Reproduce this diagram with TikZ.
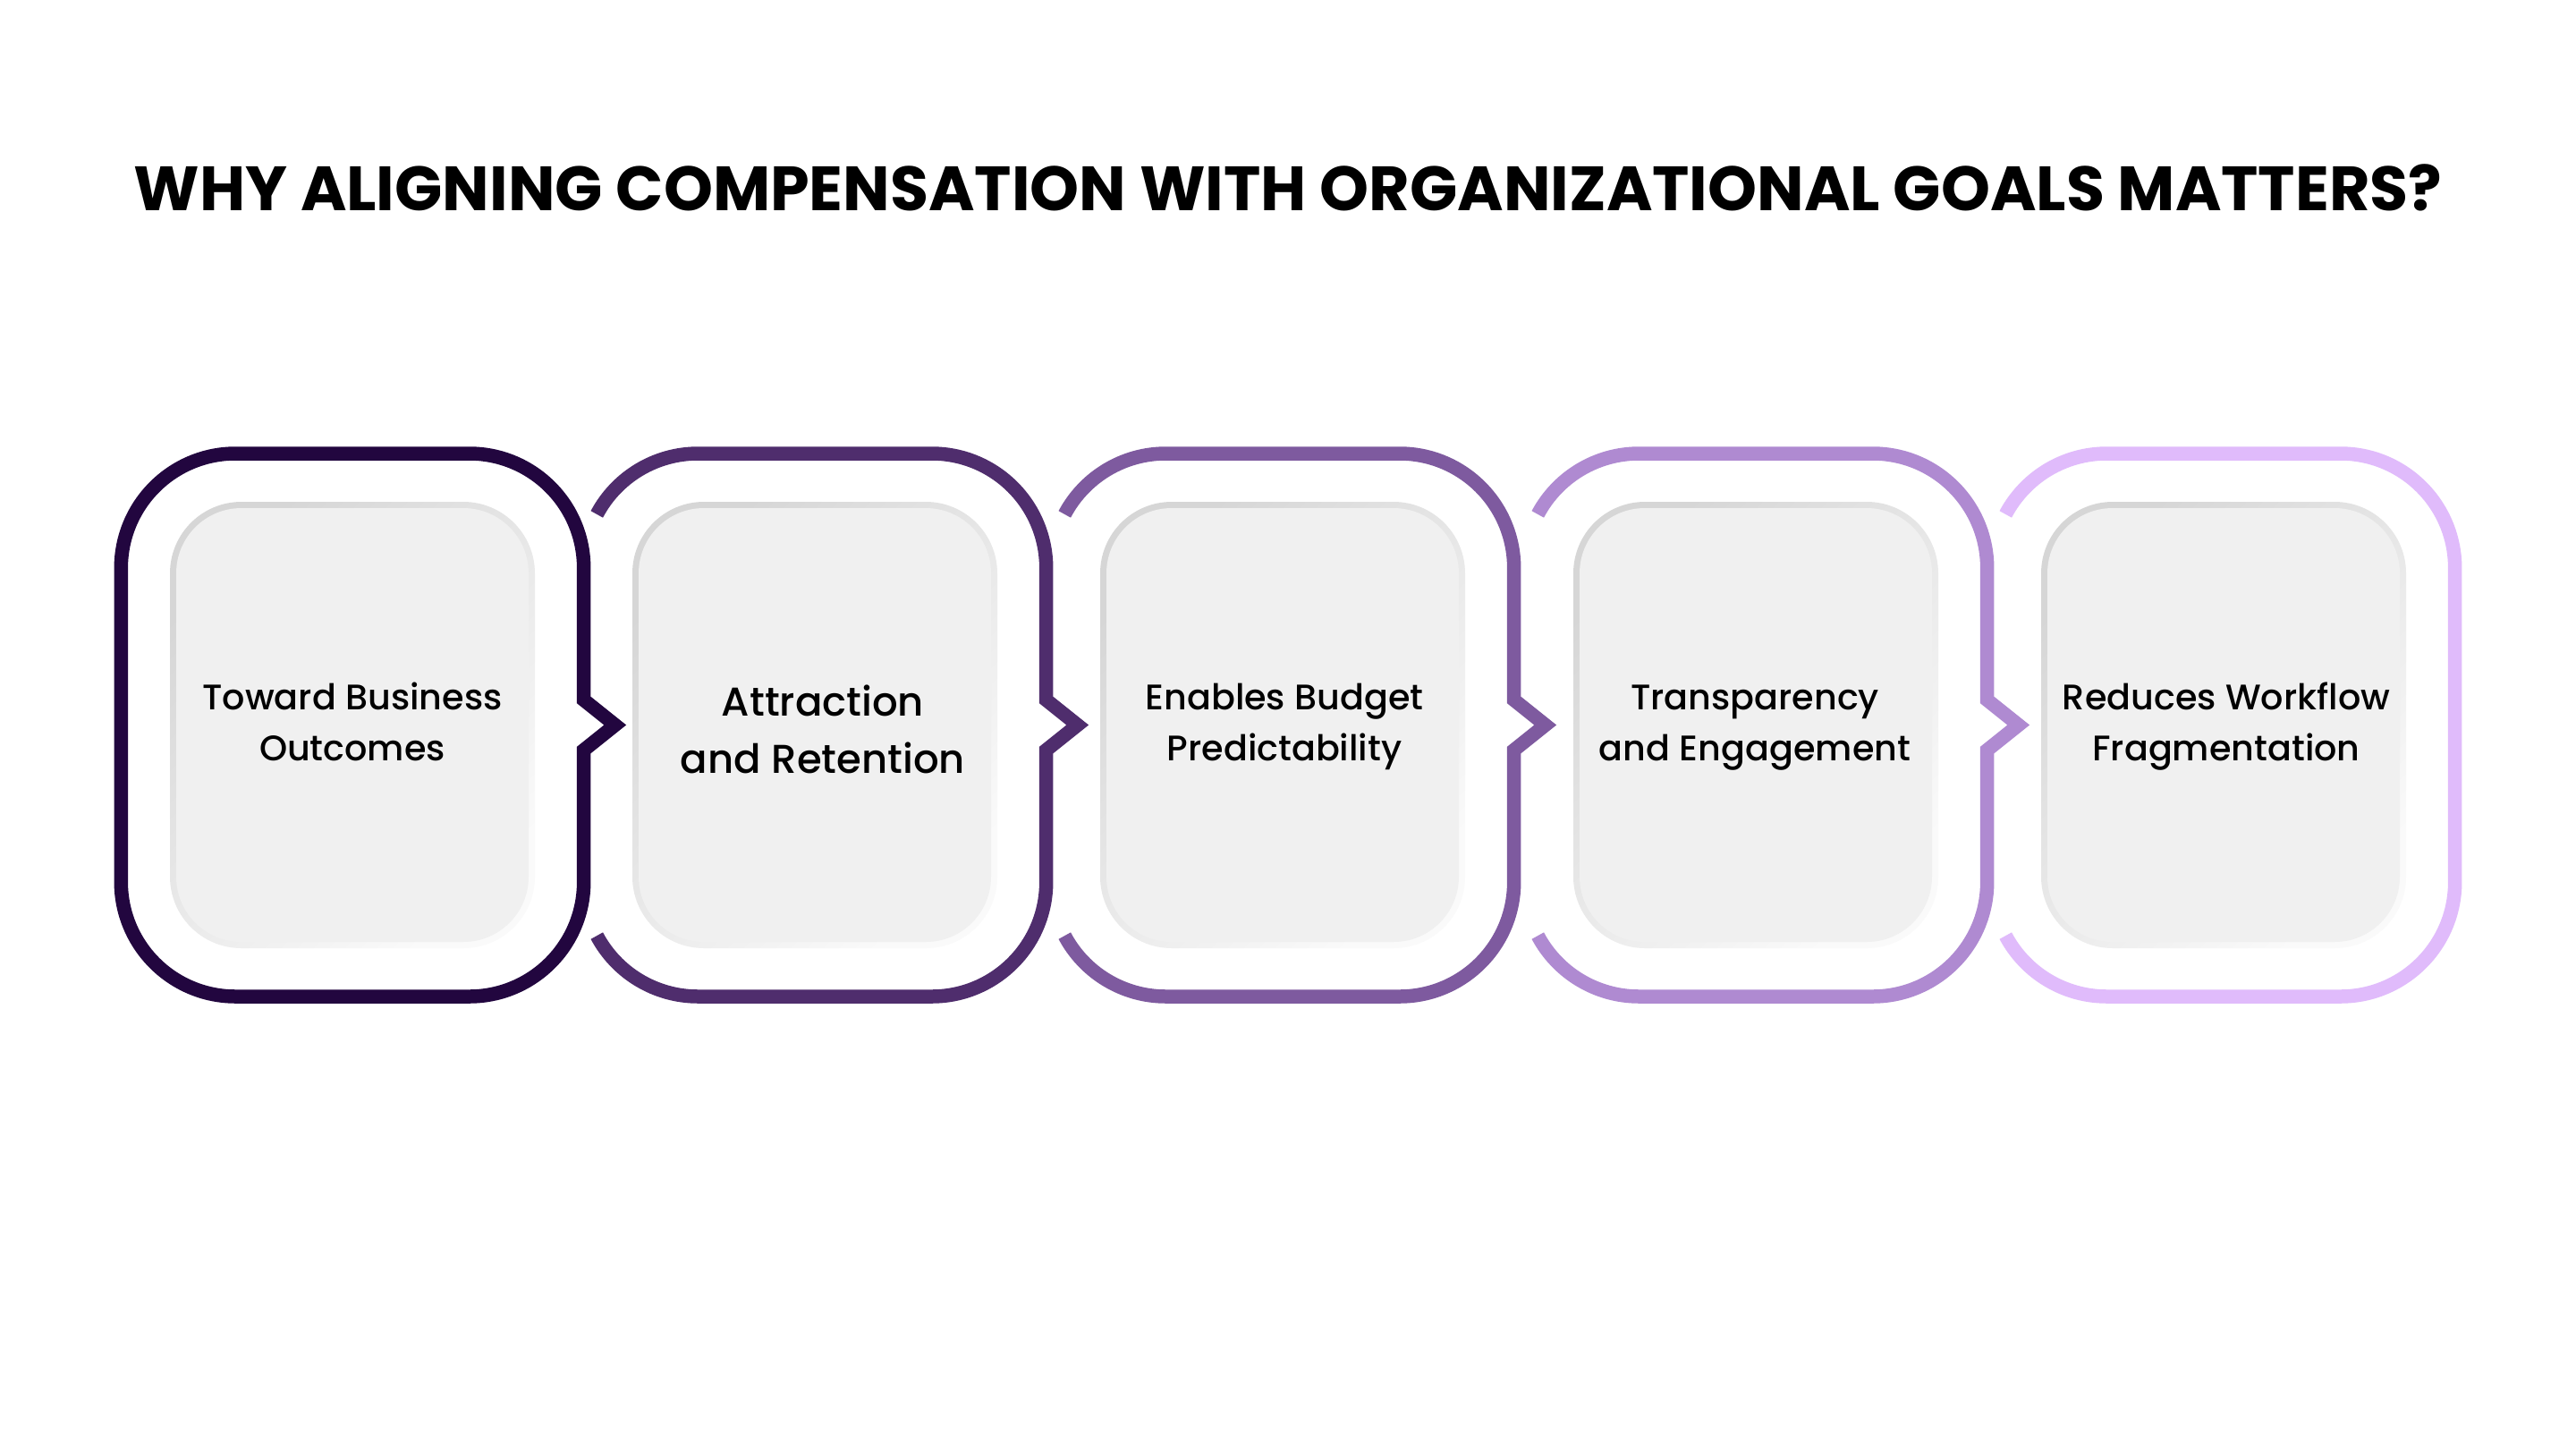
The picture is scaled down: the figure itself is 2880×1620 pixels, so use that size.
\documentclass[tikz,border=0pt]{standalone}
\usepackage{fontspec}
\setmainfont{Poppins}
\newfontfamily\medfont{Poppins Medium}

\definecolor{stepA}{HTML}{22063F}
\definecolor{stepB}{HTML}{4F2D6D}
\definecolor{stepC}{HTML}{7E5A9F}
\definecolor{stepD}{HTML}{AF8AD1}
\definecolor{stepE}{HTML}{E0BBFB}
\definecolor{cardface}{HTML}{F0F0F0}

\begin{document}
\begin{tikzpicture}[x=0.1mm, y=-0.1mm,
    frame/.style={line width=1.55mm},
    cardrim/.style={minimum width=40.8mm, minimum height=49.9mm, rounded corners=8mm, inner sep=0pt,
        left color=black!16, right color=black!2, shading angle=45},
    card/.style={minimum width=39.4mm, minimum height=48.5mm, rounded corners=7.3mm, inner sep=0pt, fill=cardface},
    label/.style={font=\medfont\fontsize{11.3}{16.1}\selectfont, align=center, anchor=base}]
    \pgfmathsetmacro{\ytop}{507};
    \pgfmathsetmacro{\ybot}{1114};
    \pgfmathsetmacro{\ymid}{810.5};
    \pgfmathsetmacro{\hw}{258.7};
    \pgfmathsetmacro{\rad}{128};
    \pgfmathsetmacro{\nh}{28};
    \pgfmathsetmacro{\nd}{35};
    \fill [white] (0,0) rectangle (2880,1620);
    \useasboundingbox (0,0) rectangle (2880,1620);
    \node [font=\fontsize{19.9}{24}\selectfont\bfseries, anchor=base] (title) at (1440, 235.5)
        {WHY ALIGNING COMPENSATION WITH ORGANIZATIONAL GOALS MATTERS?};
    % first frame, closed
    \pgfmathsetmacro{\cx}{394};
    \draw [frame, stepA] (\cx-\hw, \ymid) -- (\cx-\hw, \ytop+\rad) arc[start angle=180, end angle=270, radius=\rad]
        -- (\cx+\hw-\rad, \ytop) arc[start angle=270, end angle=360, radius=\rad]
        -- (\cx+\hw, \ymid-\nh) -- (\cx+\hw+\nd, \ymid) -- (\cx+\hw, \ymid+\nh)
        -- (\cx+\hw, \ybot-\rad) arc[start angle=0, end angle=90, radius=\rad]
        -- (\cx-\hw+\rad, \ybot) arc[start angle=90, end angle=180, radius=\rad] -- cycle;
    % middle frames, open on the left
    \foreach \cx/\col in {911/stepB, 1434/stepC, 1963/stepD}
        \draw [frame, \col] ([shift={(208:\rad)}] \cx-\hw+\rad, \ytop+\rad) arc[start angle=208, end angle=270, radius=\rad]
            -- (\cx+\hw-\rad, \ytop) arc[start angle=270, end angle=360, radius=\rad]
            -- (\cx+\hw, \ymid-\nh) -- (\cx+\hw+\nd, \ymid) -- (\cx+\hw, \ymid+\nh)
            -- (\cx+\hw, \ybot-\rad) arc[start angle=0, end angle=90, radius=\rad]
            -- (\cx-\hw+\rad, \ybot) arc[start angle=90, end angle=152, radius=\rad];
    % last frame, no arrow
    \pgfmathsetmacro{\cx}{2486};
    \draw [frame, stepE] ([shift={(208:\rad)}] \cx-\hw+\rad, \ytop+\rad) arc[start angle=208, end angle=270, radius=\rad]
        -- (\cx+\hw-\rad, \ytop) arc[start angle=270, end angle=360, radius=\rad]
        -- (\cx+\hw, \ybot-\rad) arc[start angle=0, end angle=90, radius=\rad]
        -- (\cx-\hw+\rad, \ybot) arc[start angle=90, end angle=152, radius=\rad];
    \foreach \cx/\nm in {394/A, 911/B, 1434/C, 1963/D, 2486/E} {
        \node [cardrim] (rim\nm) at (\cx, \ymid) {};
        \node [card] (card\nm) at (\cx, \ymid) {};
    }
    \node [label] (txtA) at (394, 850) {Toward Business\\Outcomes};
    \node [label, font=\medfont\fontsize{12.8}{18.2}\selectfont] (txtB) at (920, 864) {Attraction\\and Retention};
    \node [label] (txtC) at (1436, 850) {Enables Budget\\Predictability};
    \node [label] (txtD) at (1962, 850) {Transparency\\and Engagement};
    \node [label] (txtE) at (2489, 850) {Reduces Workflow\\Fragmentation};
\end{tikzpicture}
\end{document}
